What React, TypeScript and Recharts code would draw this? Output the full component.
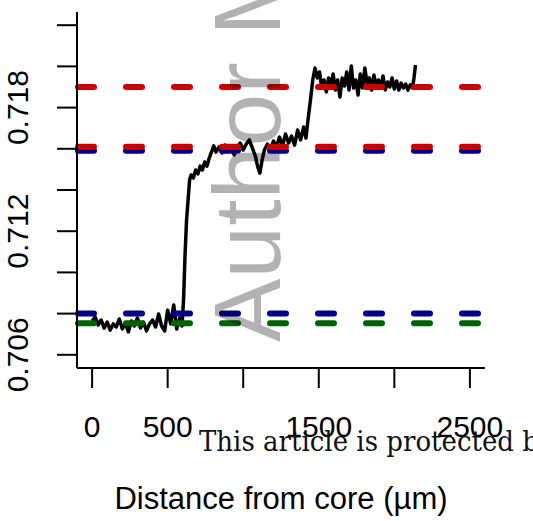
import React from 'react';
import { LineChart, Line, XAxis, YAxis, ReferenceLine } from 'recharts';

const distance = [
  0, 20, 40, 60, 80, 100, 120, 140, 160, 180, 200, 220, 240, 260, 280, 300, 320, 340, 360, 380,
  400, 420, 440, 460, 480, 500, 520, 540, 560, 580, 595,
  605, 615, 625, 635, 645, 655, 670, 685, 700, 715, 730, 745, 760, 775, 790, 805, 820, 840, 860,
  880, 900, 920, 940, 960, 980, 1000, 1020, 1040, 1060, 1080, 1095, 1110, 1125, 1140, 1160, 1180,
  1200, 1220, 1240, 1260, 1280, 1300, 1320, 1340, 1360, 1380, 1400, 1415, 1430, 1445, 1460, 1475,
  1490, 1505, 1520, 1535, 1550, 1565, 1580, 1595, 1610, 1625, 1640, 1655, 1670, 1685, 1700, 1715,
  1730, 1745, 1760, 1775, 1790, 1805, 1820, 1835, 1850, 1865, 1880, 1895, 1910, 1925, 1940, 1955,
  1970, 1985, 2000, 2015, 2030, 2045, 2060, 2075, 2090, 2105, 2120, 2130, 2140,
];

const srRatio = [
  0.70764, 0.70783, 0.70745, 0.70769, 0.7073, 0.70759, 0.7072, 0.7075, 0.70735, 0.70774,
  0.70725, 0.70754, 0.70711, 0.70764, 0.7074, 0.70779, 0.7073, 0.70759, 0.70716, 0.7075,
  0.70769, 0.70735, 0.70798, 0.7074, 0.70716, 0.70817, 0.7075, 0.70842, 0.70725, 0.70779, 0.7074,
  0.70866, 0.71084, 0.71254, 0.71351, 0.71448, 0.71473, 0.71458, 0.71497, 0.71478, 0.71516,
  0.71497, 0.71536, 0.71516, 0.71555, 0.71584, 0.71614, 0.71584, 0.71609, 0.7158, 0.71618,
  0.71589, 0.71609, 0.7157, 0.71604, 0.71628, 0.71594, 0.71623, 0.71643, 0.71604, 0.71565,
  0.71516, 0.71482, 0.71546, 0.71594, 0.71623, 0.71594, 0.71638, 0.71609, 0.71657, 0.71614,
  0.71672, 0.71628, 0.71662, 0.71618, 0.71691, 0.71643, 0.71706, 0.71652, 0.71749, 0.71837,
  0.71934, 0.71992, 0.71944, 0.71973, 0.71895, 0.71934, 0.71876, 0.71944, 0.7191, 0.71963,
  0.71885, 0.71934, 0.71851, 0.71944, 0.71905, 0.71973, 0.71885, 0.72002, 0.71895, 0.71934,
  0.71861, 0.71963, 0.71895, 0.71992, 0.71914, 0.71944, 0.71885, 0.71958, 0.71905, 0.71934,
  0.71895, 0.71953, 0.71885, 0.71924, 0.719, 0.71944, 0.7189, 0.71929, 0.71885, 0.71919,
  0.71895, 0.71914, 0.71885, 0.7191, 0.71895, 0.71944, 0.72007,
];

const redLevels = [0.719, 0.7161];
const blueLevels = [0.7159, 0.708];
const greenLevels = [0.70753];

const xTicks = [0, 500, 1000, 1500, 2000, 2500];
const xTickLabels = ['0', '500', '', '1500', '', '2500'];
const yTicks = [0.706, 0.708, 0.71, 0.712, 0.714, 0.716, 0.718, 0.72, 0.722];
const yTickLabels = ['0.706', '', '', '0.712', '', '', '0.718', '', ''];

const xTitle = 'Distance from core (\u00b5m)';
const watermark = 'Author Manuscript';
const notice = 'This article is protected by copyright. All rights reserved';

const data = distance.map((d, i) => ({ x: d, y: srRatio[i] }));

const SANS = '"Liberation Sans", Arial, Helvetica, sans-serif';

const XTick = (props: any) => {
  const { x, payload } = props;
  const idx = xTicks.indexOf(payload.value);
  const label = idx >= 0 ? xTickLabels[idx] : '';
  if (!label) return null;
  return (
    <text x={x} y={437} textAnchor="middle" fontSize={30} fontFamily={SANS} fill="#000">
      {label}
    </text>
  );
};

const YTick = (props: any) => {
  const { y, payload } = props;
  const idx = yTicks.findIndex((t) => Math.abs(t - payload.value) < 1e-9);
  const label = idx >= 0 ? yTickLabels[idx] : '';
  if (!label) return null;
  return (
    <text
      transform={`translate(28, ${y}) rotate(-90)`}
      textAnchor="middle"
      fontSize={30}
      fontFamily={SANS}
      fill="#000"
    >
      {label}
    </text>
  );
};

const dashProps = {
  strokeWidth: 6,
  strokeDasharray: '16 32',
  strokeDashoffset: -1,
  strokeLinecap: 'round' as const,
};

export default function App() {
  return (
    <div style={{ position: 'absolute', left: 0, top: 0, width: 533, height: 521, background: '#fff' }}>
      <LineChart
        width={533}
        height={521}
        data={data}
        margin={{ top: 12, right: 48, bottom: 0, left: 0 }}
      >
        <XAxis
          type="number"
          dataKey="x"
          domain={[-100, 2600]}
          ticks={xTicks}
          interval={0}
          height={153}
          tickSize={20}
          tick={<XTick />}
          stroke="#000"
          strokeWidth={2}
          allowDataOverflow
          label={{
            value: xTitle,
            position: 'insideBottom',
            offset: 12,
            fontSize: 31,
            fontFamily: SANS,
            fill: '#000',
          }}
        />
        <YAxis
          type="number"
          domain={[0.70536, 0.72264]}
          ticks={yTicks}
          interval={0}
          width={77}
          tickSize={20}
          tick={<YTick />}
          stroke="#000"
          strokeWidth={2}
          allowDataOverflow
        />
        <Line
          type="linear"
          dataKey="y"
          stroke="#000"
          strokeWidth={3.5}
          strokeLinejoin="round"
          dot={false}
          isAnimationActive={false}
        />
        {blueLevels.map((v) => (
          <ReferenceLine key={`b${v}`} y={v} stroke="#00008B" {...dashProps} />
        ))}
        {greenLevels.map((v) => (
          <ReferenceLine key={`g${v}`} y={v} stroke="#006400" {...dashProps} />
        ))}
        {redLevels.map((v) => (
          <ReferenceLine key={`r${v}`} y={v} stroke="#CD0000" {...dashProps} />
        ))}
      </LineChart>
      <svg
        width={533}
        height={521}
        style={{ position: 'absolute', left: 0, top: 0, pointerEvents: 'none' }}
      >
        <text
          transform="translate(280, 342) rotate(-90)"
          fontSize={95}
          fontFamily={SANS}
          fill="#000"
          fillOpacity={0.3}
        >
          {watermark}
        </text>
        <text
          transform="translate(199, 451) scale(0.93, 1)"
          fontSize={28}
          fontFamily='"DejaVu Serif", serif'
          fill="#111"
        >
          {notice}
        </text>
      </svg>
    </div>
  );
}
